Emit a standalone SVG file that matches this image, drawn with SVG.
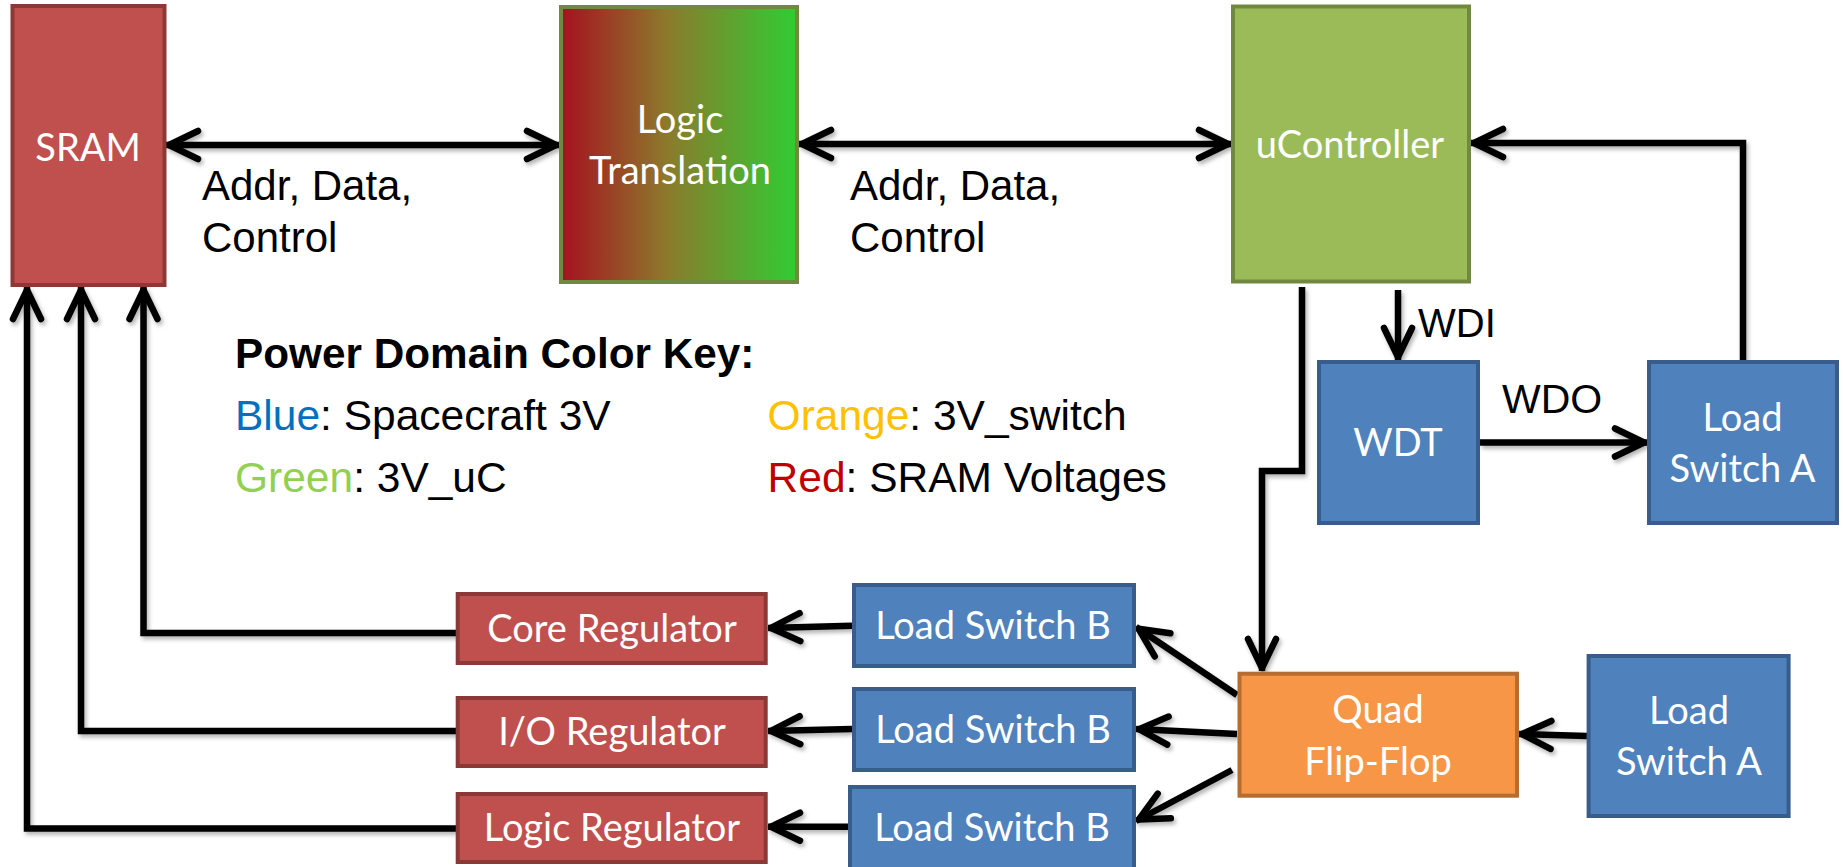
<svg xmlns="http://www.w3.org/2000/svg" width="1843" height="867" viewBox="0 0 1843 867">
<style>
.box{stroke-width:4}
.red{fill:#C0504D;stroke:#8C3836}
.blue{fill:#4F81BD;stroke:#385D8A}
.green{fill:#9BBB59;stroke:#71893F}
.orange{fill:#F79646;stroke:#B66D31}
.lbl{font-family:Lato,"Open Sans",sans-serif;font-size:38px;fill:#FFFFFF;text-anchor:middle}
.txt{font-family:"Liberation Sans",Arial,sans-serif;font-size:42px;fill:#000000}
.key{font-family:"Liberation Sans",Arial,sans-serif;font-size:42.5px;fill:#000000}
.conn path{fill:none;stroke:#000000;stroke-width:6.5;stroke-linejoin:miter}
.arr{marker-end:url(#ah)}
.dbl{marker-end:url(#ah);marker-start:url(#ah)}
</style>
<defs>
<linearGradient id="lt" x1="0" y1="0" x2="1" y2="0">
<stop offset="0" stop-color="#A6101F"/>
<stop offset="0.45" stop-color="#8C7A2C"/>
<stop offset="1" stop-color="#30CC33"/>
</linearGradient>
<marker id="ah" markerUnits="userSpaceOnUse" viewBox="-40 -22 48 44" markerWidth="48" markerHeight="44" refX="3" refY="0" orient="auto-start-reverse" overflow="visible">
<path d="M-29,-14 L0,0 L-29,14" fill="none" stroke="#000000" stroke-width="6.5" stroke-linecap="round" stroke-linejoin="round"/>
</marker>
<filter id="sh" x="-5%" y="-5%" width="110%" height="110%">
<feDropShadow dx="2" dy="3" stdDeviation="2" flood-color="#000000" flood-opacity="0.3"/>
</filter>
</defs>
<rect width="1843" height="867" fill="#FFFFFF"/>

<g id="connectors" class="conn" filter="url(#sh)">
<path class="dbl" d="M166,145 H559"/>
<path class="dbl" d="M799,144 H1231"/>
<path class="arr" d="M1743,360 V143 H1471"/>
<path class="arr" d="M1398,290 V360"/>
<path class="arr" d="M1480,442.5 H1647"/>
<path class="arr" d="M1302,287 V471 H1262 V671"/>
<path class="arr" d="M1587,736 L1519,734"/>
<path class="arr" d="M1237,695 L1136,627"/>
<path class="arr" d="M1237,734 L1136,729"/>
<path class="arr" d="M1232,770 L1136,821"/>
<path class="arr" d="M852,625.7 L768,628"/>
<path class="arr" d="M852,729 L768,731"/>
<path class="arr" d="M848,826.7 L768,826.7"/>
<path class="arr" d="M457,633 H143.5 V287"/>
<path class="arr" d="M457,731 H81 V287"/>
<path class="arr" d="M457,828.5 H27 V287"/>
</g>

<g id="sram">
<rect class="box red" x="12.5" y="6" width="152" height="279"/>
<text class="lbl" x="88" y="161">SRAM</text>
</g>
<g id="logic-translation">
<rect class="box" x="561" y="7" width="236" height="275" fill="url(#lt)" stroke="#71893F"/>
<text class="lbl" x="680" y="133">Logic</text>
<text class="lbl" x="680" y="184">Translation</text>
</g>
<g id="ucontroller">
<rect class="box green" x="1233" y="6.5" width="236" height="275"/>
<text class="lbl" x="1350" y="158">uController</text>
</g>
<g id="wdt">
<rect class="box blue" x="1319" y="362" width="159" height="161"/>
<text class="lbl" x="1398" y="456">WDT</text>
</g>
<g id="load-switch-a-top">
<rect class="box blue" x="1649" y="362" width="188" height="161"/>
<text class="lbl" x="1742.5" y="431">Load</text>
<text class="lbl" x="1742.5" y="482">Switch A</text>
</g>
<g id="core-regulator">
<rect class="box red" x="457.7" y="594" width="308" height="69"/>
<text class="lbl" x="612" y="641.7">Core Regulator</text>
</g>
<g id="io-regulator">
<rect class="box red" x="457.7" y="698" width="308" height="68"/>
<text class="lbl" x="612" y="745">I/O Regulator</text>
</g>
<g id="logic-regulator">
<rect class="box red" x="457.7" y="794" width="308" height="68"/>
<text class="lbl" x="612" y="841">Logic Regulator</text>
</g>
<g id="load-switch-b-1">
<rect class="box blue" x="854" y="585" width="280" height="81"/>
<text class="lbl" x="993" y="639">Load Switch B</text>
</g>
<g id="load-switch-b-2">
<rect class="box blue" x="854" y="689" width="280" height="81"/>
<text class="lbl" x="993" y="743">Load Switch B</text>
</g>
<g id="load-switch-b-3">
<rect class="box blue" x="850" y="787" width="284" height="90"/>
<text class="lbl" x="992" y="841">Load Switch B</text>
</g>
<g id="quad-flip-flop">
<rect class="box orange" x="1239.5" y="673.7" width="277.5" height="122"/>
<text class="lbl" x="1378" y="723">Quad</text>
<text class="lbl" x="1378" y="775">Flip-Flop</text>
</g>
<g id="load-switch-a-bottom">
<rect class="box blue" x="1588.6" y="656" width="200" height="160"/>
<text class="lbl" x="1689" y="724">Load</text>
<text class="lbl" x="1689" y="775">Switch A</text>
</g>

<g id="labels">
<text class="txt" x="202" y="200">Addr, Data,</text>
<text class="txt" x="202" y="252">Control</text>
<text class="txt" x="850" y="200">Addr, Data,</text>
<text class="txt" x="850" y="252">Control</text>
<text class="txt" x="1418" y="337" style="font-size:40px">WDI</text>
<text class="txt" x="1502" y="412.5" style="font-size:41px">WDO</text>
</g>

<g id="legend">
<text class="key" x="235" y="368" font-weight="bold" style="font-size:42.3px">Power Domain Color Key:</text>
<text class="key" x="235" y="430"><tspan fill="#0070C0">Blue</tspan>: Spacecraft 3V</text>
<text class="key" x="235" y="491.7"><tspan fill="#92D050">Green</tspan>: 3V_uC</text>
<text class="key" x="767.6" y="430"><tspan fill="#FFC000">Orange</tspan>: 3V_switch</text>
<text class="key" x="767.6" y="491.7"><tspan fill="#C00000">Red</tspan>: SRAM Voltages</text>
</g>
</svg>
